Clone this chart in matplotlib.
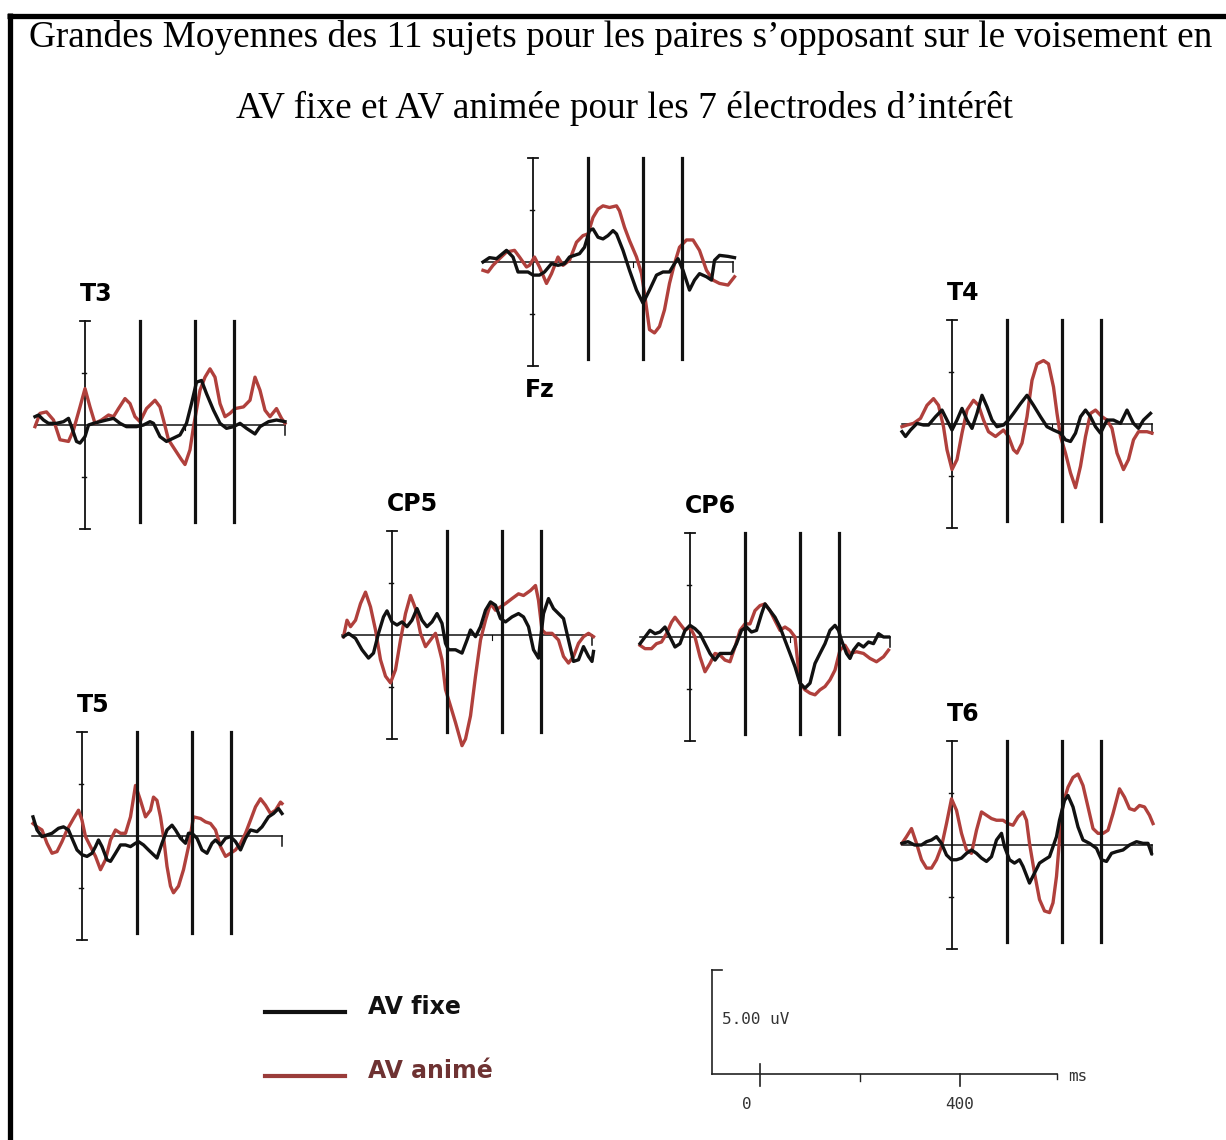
# -*- coding: utf-8 -*-
"""Grandes moyennes ERP (AV fixe / AV animé) pour 7 électrodes."""
import matplotlib
matplotlib.use("Agg")
import matplotlib.pyplot as plt
from matplotlib.lines import Line2D

# %% Données (temps en ms, amplitude en µV)
FZ_FIXE = [(-100, 0.0), (-87, 0.21), (-73, 0.16), (-53, 0.56), (-40, 0.24), (-30, -0.48),
           (-10, -0.48), (0, -0.63), (13, -0.63), (23, -0.48), (37, -0.08), (50, -0.16),
           (63, -0.08), (73, 0.24), (93, 0.40), (103, 0.71), (113, 1.51), (120, 1.59),
           (130, 1.19), (140, 1.11), (150, 1.27), (160, 1.51), (167, 1.35), (180, 0.56),
           (193, -0.40), (207, -1.35), (220, -1.98), (233, -1.35), (247, -0.63), (260, -0.48),
           (273, -0.48), (283, -0.08), (290, 0.16), (300, -0.40), (313, -1.35), (323, -0.87),
           (333, -0.56), (347, -0.71), (357, -0.87), (363, 0.08), (373, 0.32), (390, 0.27),
           (403, 0.21)]
FZ_ANIME = [(-100, -0.40), (-90, -0.48), (-80, -0.16), (-67, 0.16), (-53, 0.48), (-37, 0.56),
            (-27, 0.24), (-13, -0.24), (-7, -0.16), (3, 0.24), (13, -0.24), (27, -1.03),
            (37, -0.56), (50, 0.24), (60, -0.16), (73, 0.08), (87, 0.95), (100, 1.27),
            (110, 1.35), (120, 2.14), (130, 2.54), (140, 2.70), (153, 2.62), (167, 2.70),
            (173, 2.46), (183, 1.67), (193, 1.03), (207, 0.24), (217, -0.56), (223, -1.51),
            (233, -3.25), (243, -3.41), (253, -3.10), (263, -2.30), (273, -1.03), (283, -0.08),
            (293, 0.71), (307, 1.06), (320, 1.06), (333, 0.56), (347, -0.40), (360, -0.87),
            (373, -1.03), (390, -1.11), (403, -0.71)]

T3_FIXE = [(-100, 0.40), (-93, 0.48), (-83, 0.24), (-73, 0.08), (-57, 0.08), (-43, 0.16),
           (-33, 0.32), (-27, -0.08), (-17, -0.79), (-10, -0.87), (0, -0.56), (7, 0.0),
           (17, 0.08), (30, 0.16), (43, 0.24), (57, 0.32), (70, 0.08), (83, -0.08),
           (103, -0.08), (117, 0.0), (130, 0.16), (137, 0.08), (150, -0.56), (163, -0.79),
           (177, -0.63), (190, -0.48), (203, 0.08), (213, 1.03), (223, 2.06), (233, 2.14),
           (243, 1.51), (257, 0.71), (270, 0.08), (283, -0.16), (297, -0.08), (310, 0.08),
           (323, -0.16), (340, -0.43), (350, -0.08), (367, 0.16), (383, 0.24), (400, 0.16)]
T3_ANIME = [(-100, -0.08), (-90, 0.56), (-77, 0.63), (-63, 0.24), (-50, -0.71), (-33, -0.79),
            (-23, -0.24), (-10, 0.87), (0, 1.75), (10, 0.87), (20, 0.08), (33, 0.24),
            (47, 0.48), (57, 0.40), (67, 0.79), (80, 1.27), (90, 1.03), (100, 0.40),
            (110, 0.16), (123, 0.79), (140, 1.19), (150, 0.87), (157, 0.24), (167, -0.71),
            (180, -1.19), (193, -1.67), (200, -1.90), (210, -1.19), (217, -0.08), (230, 1.67),
            (240, 2.30), (250, 2.70), (260, 2.30), (270, 1.03), (280, 0.40), (290, 0.56),
            (300, 0.79), (317, 0.87), (330, 1.19), (340, 2.30), (350, 1.67), (360, 0.71),
            (370, 0.40), (383, 0.79), (393, 0.32), (400, 0.08)]

T4_FIXE = [(-100, -0.37), (-93, -0.60), (-83, -0.29), (-70, 0.03), (-57, -0.05), (-47, -0.05),
           (-33, 0.35), (-20, 0.67), (-10, 0.19), (0, -0.29), (10, 0.19), (20, 0.75),
           (30, 0.19), (40, -0.21), (50, 0.51), (60, 1.38), (70, 0.83), (80, 0.19),
           (90, -0.13), (103, -0.05), (113, 0.19), (123, 0.51), (137, 0.98), (150, 1.38),
           (163, 0.90), (177, 0.35), (190, -0.13), (203, -0.29), (217, -0.44), (227, -0.76),
           (237, -0.84), (247, -0.44), (257, 0.35), (267, 0.67), (277, 0.35), (287, -0.13),
           (297, -0.44), (310, 0.19), (323, 0.19), (337, 0.03), (350, 0.67), (363, 0.03),
           (373, -0.21), (383, 0.19), (397, 0.51)]
T4_ANIME = [(-100, -0.13), (-90, -0.05), (-77, 0.03), (-63, 0.27), (-50, 0.90), (-37, 1.22),
            (-27, 0.90), (-17, -0.13), (-10, -1.24), (0, -2.19), (10, -1.71), (20, -0.44),
            (30, 0.67), (43, 1.14), (53, 0.90), (63, 0.19), (73, -0.37), (87, -0.60),
            (103, -0.29), (113, -0.60), (123, -1.24), (130, -1.40), (140, -0.92), (150, 0.35),
            (160, 2.10), (170, 2.89), (183, 3.05), (193, 2.89), (203, 1.78), (210, 0.51),
            (217, -0.60), (227, -1.40), (237, -2.35), (247, -3.06), (257, -2.03), (267, -0.60),
            (277, 0.51), (287, 0.67), (300, 0.35), (310, 0.19), (320, -0.21), (330, -1.40),
            (343, -2.19), (353, -1.71), (363, -0.76), (373, -0.37), (390, -0.37), (400, -0.44)]

CP5_FIXE = [(-97, -0.08), (-87, 0.08), (-73, -0.16), (-60, -0.71), (-47, -1.11), (-37, -0.87),
            (-27, 0.08), (-17, 0.87), (-10, 1.16), (0, 0.63), (10, 0.48), (20, 0.63),
            (30, 0.40), (40, 0.71), (50, 1.27), (60, 0.71), (70, 0.40), (80, 0.63),
            (90, 1.03), (100, 0.56), (107, -0.40), (113, -0.71), (127, -0.71), (140, -0.87),
            (150, -0.24), (157, 0.24), (167, -0.08), (177, 0.40), (187, 1.19), (197, 1.59),
            (207, 1.43), (217, 0.79), (227, 0.63), (240, 0.87), (253, 1.03), (263, 0.87),
            (273, 0.40), (283, -0.71), (293, -1.11), (303, 1.03), (313, 1.75), (323, 1.27),
            (333, 1.03), (343, 0.79), (353, -0.24), (363, -1.27), (373, -1.19), (383, -0.56),
            (393, -1.03), (400, -1.27), (403, -0.79)]
CP5_ANIME = [(-97, -0.08), (-90, 0.71), (-83, 0.40), (-73, 0.71), (-63, 1.51), (-53, 2.06),
             (-43, 1.35), (-33, 0.24), (-23, -1.19), (-13, -1.98), (-3, -2.30), (7, -1.67),
             (17, -0.24), (27, 1.03), (37, 1.90), (47, 1.27), (57, 0.08), (67, -0.56),
             (77, -0.24), (87, 0.08), (100, -1.19), (107, -2.62), (117, -3.41), (127, -4.21),
             (140, -5.32), (147, -5.00), (157, -3.89), (167, -1.98), (177, -0.24), (187, 0.71),
             (197, 1.51), (207, 1.19), (217, 1.35), (227, 1.51), (240, 1.75), (253, 1.98),
             (263, 1.90), (277, 2.14), (287, 2.38), (293, 1.67), (300, 0.24), (307, 0.08),
             (320, 0.08), (333, -0.24), (343, -1.03), (353, -1.35), (363, -1.03), (373, -0.40),
             (383, -0.08), (393, 0.08), (403, -0.08)]

CP6_FIXE = [(-100, -0.32), (-90, 0.0), (-80, 0.32), (-70, 0.16), (-60, 0.24), (-50, 0.48),
            (-40, 0.0), (-30, -0.48), (-20, -0.32), (-10, 0.32), (0, 0.56), (10, 0.40),
            (20, 0.16), (30, -0.32), (40, -0.79), (50, -1.11), (60, -0.79), (73, -0.79),
            (83, -0.79), (93, -0.32), (103, 0.32), (113, 0.48), (123, 0.24), (133, 0.32),
            (143, 1.11), (150, 1.59), (160, 1.27), (170, 0.95), (180, 0.48), (190, -0.16),
            (200, -0.79), (210, -1.43), (220, -2.22), (230, -2.46), (240, -2.22), (250, -1.27),
            (260, -0.79), (270, -0.32), (280, 0.32), (290, 0.56), (297, 0.32), (303, -0.16),
            (313, -0.79), (320, -1.03), (327, -0.63), (337, -0.32), (347, -0.48), (357, -0.24),
            (367, -0.32), (377, 0.16), (387, 0.0), (397, 0.0)]
CP6_ANIME = [(-100, -0.40), (-90, -0.56), (-77, -0.56), (-67, -0.32), (-57, -0.24), (-47, 0.16),
             (-37, 0.71), (-30, 0.95), (-20, 0.63), (-10, 0.32), (0, 0.48), (10, 0.0),
             (20, -0.95), (30, -1.67), (40, -1.27), (50, -0.79), (60, -0.87), (70, -1.11),
             (80, -1.19), (90, -0.48), (100, 0.32), (110, 0.63), (120, 0.63), (130, 1.27),
             (140, 1.51), (150, 1.59), (160, 1.27), (170, 0.79), (180, 0.32), (190, 0.48),
             (200, 0.32), (210, 0.0), (220, -2.22), (230, -2.54), (240, -2.70), (250, -2.78),
             (260, -2.54), (270, -2.38), (280, -2.06), (290, -1.59), (300, -0.63), (310, -0.40),
             (320, -0.79), (333, -0.71), (347, -0.79), (360, -1.03), (373, -1.19), (387, -0.95),
             (397, -0.63)]

T5_FIXE = [(-98, 0.92), (-90, 0.29), (-80, -0.03), (-70, 0.05), (-60, 0.13), (-47, 0.37),
           (-37, 0.44), (-27, 0.29), (-20, -0.11), (-10, -0.67), (0, -0.90), (10, -0.98),
           (20, -0.83), (27, -0.51), (33, -0.19), (40, -0.51), (50, -1.14), (57, -1.22),
           (67, -0.83), (77, -0.43), (87, -0.43), (97, -0.51), (107, -0.35), (113, -0.27),
           (123, -0.43), (133, -0.67), (143, -0.90), (150, -1.06), (160, -0.35), (170, 0.29),
           (180, 0.52), (187, 0.29), (197, -0.11), (207, -0.35), (213, 0.13), (220, 0.13),
           (230, -0.11), (240, -0.67), (250, -0.83), (260, -0.35), (267, -0.19), (277, -0.43),
           (287, -0.11), (297, -0.03), (307, -0.27), (317, -0.67), (327, -0.11), (337, 0.29),
           (350, 0.21), (360, 0.44), (373, 0.92), (383, 1.08), (393, 1.32), (400, 1.08)]
T5_ANIME = [(-98, 0.60), (-90, 0.44), (-80, 0.29), (-70, -0.35), (-60, -0.83), (-50, -0.75),
            (-40, -0.27), (-30, 0.29), (-17, 0.84), (-7, 1.24), (0, 0.76), (7, -0.03),
            (17, -0.51), (27, -0.98), (37, -1.62), (47, -1.14), (57, -0.19), (67, 0.29),
            (77, 0.13), (87, 0.13), (97, 0.92), (107, 2.43), (117, 1.71), (127, 0.92),
            (137, 1.24), (143, 1.87), (150, 1.71), (157, 0.92), (163, -0.03), (170, -1.46),
            (177, -2.41), (183, -2.73), (193, -2.41), (203, -1.62), (213, -0.51), (223, 0.92),
            (237, 0.84), (247, 0.68), (257, 0.60), (267, 0.29), (277, -0.51), (287, -0.98),
            (297, -0.83), (307, -0.67), (317, -0.35), (327, 0.13), (337, 0.76), (347, 1.40),
            (357, 1.79), (367, 1.48), (377, 1.08), (387, 1.24), (397, 1.63), (400, 1.56)]

T6_FIXE = [(-100, 0.08), (-88, 0.16), (-75, 0.0), (-61, 0.0), (-51, 0.16), (-41, 0.24),
           (-31, 0.40), (-21, 0.08), (-11, -0.48), (-1, -0.71), (9, -0.71), (19, -0.63),
           (29, -0.40), (39, -0.24), (49, -0.40), (59, -0.63), (69, -0.79), (79, -0.56),
           (89, 0.24), (99, 0.56), (105, -0.08), (115, -0.71), (125, -0.87), (135, -0.71),
           (142, -1.03), (155, -1.83), (165, -1.35), (175, -0.87), (185, -0.71), (195, -0.56),
           (202, -0.08), (209, 0.40), (215, 1.19), (225, 2.14), (232, 2.38), (242, 1.83),
           (252, 0.87), (262, 0.24), (275, 0.08), (289, -0.16), (299, -0.71), (309, -0.79),
           (319, -0.40), (329, -0.32), (342, -0.24), (355, 0.0), (369, 0.16), (382, 0.08),
           (392, 0.08), (399, -0.40)]
T6_ANIME = [(-100, 0.08), (-91, 0.40), (-81, 0.79), (-71, 0.08), (-61, -0.71), (-51, -1.11),
            (-41, -1.11), (-31, -0.71), (-21, -0.08), (-11, 1.03), (-1, 2.22), (9, 1.67),
            (19, 0.56), (29, -0.24), (39, -0.40), (49, 0.71), (59, 1.59), (69, 1.43),
            (79, 1.27), (89, 1.19), (102, 1.19), (112, 1.03), (122, 0.95), (132, 1.35),
            (142, 1.59), (149, 1.19), (155, 0.08), (165, -1.35), (175, -2.62), (185, -3.17),
            (195, -3.25), (202, -2.78), (209, -1.51), (215, 0.24), (222, 1.98), (232, 2.78),
            (242, 3.25), (252, 3.41), (262, 2.86), (272, 1.83), (282, 0.79), (292, 0.56),
            (302, 0.56), (312, 0.71), (322, 1.51), (335, 2.70), (345, 2.30), (355, 1.75),
            (365, 1.67), (375, 1.90), (385, 1.83), (395, 1.43), (402, 1.03)]

MARKERS_MS = [110, 220, 298]          # lignes verticales
LEGEND_LABELS = ["AV fixe", "AV animé"]
SCALE_UV = 5.00
SCALE_TICK_LABELS = {0: "0", 400: "400"}

TITLE_1 = "Grandes Moyennes des 11 sujets pour les paires s\u2019opposant sur le voisement en"
TITLE_2 = "AV fixe et AV animée pour les 7 électrodes d\u2019intérêt"

# %% Mise en page (pixels de l'image)
W, H = 1226, 1140
PX_MS = 0.5       # px par ms
PX_UV = 20.8      # px par µV
BLACK = "#111111"
RED = "#b0403c"
LABEL_FONT = dict(fontsize=17, fontweight="bold", family="DejaVu Sans")
MONO_FONT = dict(fontsize=11.5, family="DejaVu Sans Mono", color="#333333")

# nom, x (t=0), y (0 µV), fixe, animé, position de l'étiquette
PANELS = [
    ("Fz", 533, 262, FZ_FIXE, FZ_ANIME, "below"),
    ("T3", 85, 425, T3_FIXE, T3_ANIME, "above"),
    ("T4", 952, 424, T4_FIXE, T4_ANIME, "above"),
    ("CP5", 392, 635, CP5_FIXE, CP5_ANIME, "above"),
    ("CP6", 690, 637, CP6_FIXE, CP6_ANIME, "above"),
    ("T5", 82, 836, T5_FIXE, T5_ANIME, "above"),
    ("T6", 952, 845, T6_FIXE, T6_ANIME, "above"),
]

fig = plt.figure(figsize=(W / 100, H / 100), dpi=100)
fig.patch.set_facecolor("white")


def px_axes(x0, y0, t_min, t_max, v_min, v_max):
    """Axes dont l'origine (0 ms, 0 µV) tombe au pixel (x0, y0)."""
    left = x0 + t_min * PX_MS
    right = x0 + t_max * PX_MS
    top = y0 - v_max * PX_UV
    bottom = y0 - v_min * PX_UV
    ax = fig.add_axes([left / W, 1 - bottom / H, (right - left) / W, (bottom - top) / H])
    ax.set_xlim(t_min, t_max)
    ax.set_ylim(v_min, v_max)
    ax.axis("off")
    return ax


for name, x0, y0, fixe, anime, where in PANELS:
    ax = px_axes(x0, y0, -100, 400, -5, 5)
    kw = dict(clip_on=False)
    # axe des temps
    ax.plot([-100, 400], [0, 0], color=BLACK, lw=1.1, **kw)
    ax.plot([400, 400], [0, -0.5], color=BLACK, lw=1.1, **kw)
    ax.plot([200, 200], [0, -0.25], color=BLACK, lw=0.8, **kw)
    # axe des amplitudes
    ax.plot([0, 0], [-5, 5], color=BLACK, lw=1.3, **kw)
    for v in (-5, 5):
        ax.plot([-10, 10], [v, v], color=BLACK, lw=1.3, **kw)
    for v in (-2.5, 2.5):
        ax.plot([-6, 2], [v, v], color=BLACK, lw=1.0, **kw)
    # courbes
    ax.plot([p[0] for p in anime], [p[1] for p in anime], color=RED, lw=2.4,
            solid_joinstyle="round", **kw)
    ax.plot([p[0] for p in fixe], [p[1] for p in fixe], color=BLACK, lw=2.4,
            solid_joinstyle="round", **kw)
    # repères verticaux
    for m in MARKERS_MS:
        ax.plot([m, m], [-4.65, 5.0], color=BLACK, lw=2.3, **kw)
    if where == "above":
        ax.text(-10, 6.3, name, ha="left", va="center", **LABEL_FONT, **kw)
    else:
        ax.text(-16, -6.15, name, ha="left", va="center", **LABEL_FONT, **kw)

# %% Échelle
sax = px_axes(760, 1074, -100, 600, -1.9, SCALE_UV)
kw = dict(clip_on=False, color="#222222")
sax.plot([-96, -96], [0, SCALE_UV], lw=1.2, **kw)
sax.plot([-96, -76], [SCALE_UV, SCALE_UV], lw=1.2, **kw)
sax.plot([-96, 594], [0, 0], lw=1.2, **kw)
sax.plot([594, 594], [0, -0.25], lw=1.0, **kw)
sax.plot([0, 0], [0.48, -0.6], lw=1.2, **kw)
sax.plot([200, 200], [0, -0.35], lw=1.0, **kw)
sax.plot([400, 400], [0, -0.6], lw=1.2, **kw)
sax.text(-77, 2.6, f"{SCALE_UV:.2f} uV", ha="left", va="center", clip_on=False, **MONO_FONT)
for t, lab in SCALE_TICK_LABELS.items():
    sax.text(t - (26 if t == 0 else 0), -1.45, lab, ha="center", va="center",
             clip_on=False, **MONO_FONT)
sax.text(616, -0.1, "ms", ha="left", va="center", clip_on=False, **MONO_FONT)

# %% Légende
lax = fig.add_axes([250 / W, 1 - 1100 / H, 300 / W, 120 / H])
lax.set_xlim(250, 550)
lax.set_ylim(1100, 980)
lax.axis("off")
for (lab, col, tcol, y) in [(LEGEND_LABELS[0], BLACK, "#111111", 1012),
                           (LEGEND_LABELS[1], "#9a3c3a", "#6e3232", 1076)]:
    lax.plot([265, 345], [y, y], color=col, lw=3.0)
    lax.text(368, y - 5, lab, ha="left", va="center", color=tcol, **LABEL_FONT)

# %% Titre et cadre
fig.text(621 / W, 1 - 47 / H, TITLE_1, ha="center", va="baseline",
         family="Liberation Serif", fontsize=26.8)
fig.text(625 / W, 1 - 118 / H, TITLE_2, ha="center", va="baseline",
         family="Liberation Serif", fontsize=26.8)
fig.add_artist(Line2D([9.5 / W, 9.5 / W], [0, 1 - 13 / H], color="black", lw=3.8,
                      transform=fig.transFigure, solid_capstyle="butt"))
fig.add_artist(Line2D([7 / W, 1], [1 - 15.5 / H, 1 - 15.5 / H], color="black", lw=3.8,
                      transform=fig.transFigure, solid_capstyle="butt"))

fig.savefig("out.png", dpi=100)
